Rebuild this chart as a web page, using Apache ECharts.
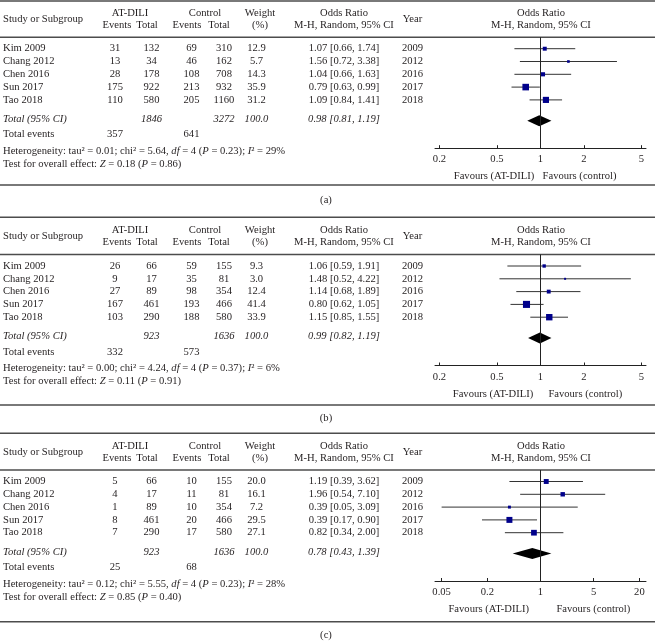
<!DOCTYPE html>
<html><head><meta charset="utf-8">
<script src="https://cdn.jsdelivr.net/npm/echarts@6/dist/echarts.min.js"></script>
<style>html,body{margin:0;padding:0;background:#fff}#c{width:655px;height:642px}</style>
</head><body><div id="c"></div>
<script>
// ---------- data ----------
const studies = ['Kim 2009', 'Chang 2012', 'Chen 2016', 'Sun 2017', 'Tao 2018'];
const years = [2009, 2012, 2016, 2017, 2018];

// panel (a)
const aExpEvents = [31, 13, 28, 175, 110];
const aExpTotal = [132, 34, 178, 922, 580];
const aCtlEvents = [69, 46, 108, 213, 205];
const aCtlTotal = [310, 162, 708, 932, 1160];
const aWeight = [12.9, 5.7, 14.3, 35.9, 31.2];
const aOR = [1.07, 1.56, 1.04, 0.79, 1.09];
const aLo = [0.66, 0.72, 0.66, 0.63, 0.84];
const aHi = [1.74, 3.38, 1.63, 0.99, 1.41];
const aPooled = [0.98, 0.81, 1.19];           // OR, lower, upper
const aTotals = [1846, 3272, 357, 641];        // exp total, ctl total, exp events, ctl events
const aHet = ['0.01', '5.64', 4, '0.23', 29]; // tau2, chi2, df, P, I2
const aTest = ['0.18', '0.86'];                // Z, P
const aTicks = [0.2, 0.5, 1, 2, 5];

// panel (b)
const bExpEvents = [26, 9, 27, 167, 103];
const bExpTotal = [66, 17, 89, 461, 290];
const bCtlEvents = [59, 35, 98, 193, 188];
const bCtlTotal = [155, 81, 354, 466, 580];
const bWeight = [9.3, 3.0, 12.4, 41.4, 33.9];
const bOR = [1.06, 1.48, 1.14, 0.80, 1.15];
const bLo = [0.59, 0.52, 0.68, 0.62, 0.85];
const bHi = [1.91, 4.22, 1.89, 1.05, 1.55];
const bPooled = [0.99, 0.82, 1.19];
const bTotals = [923, 1636, 332, 573];
const bHet = ['0.00', '4.24', 4, '0.37', 6];
const bTest = ['0.11', '0.91'];
const bTicks = [0.2, 0.5, 1, 2, 5];

// panel (c)
const cExpEvents = [5, 4, 1, 8, 7];
const cExpTotal = [66, 17, 89, 461, 290];
const cCtlEvents = [10, 11, 10, 20, 17];
const cCtlTotal = [155, 81, 354, 466, 580];
const cWeight = [20.0, 16.1, 7.2, 29.5, 27.1];
const cOR = [1.19, 1.96, 0.39, 0.39, 0.82];
const cLo = [0.39, 0.54, 0.05, 0.17, 0.34];
const cHi = [3.62, 7.10, 3.09, 0.90, 2.00];
const cPooled = [0.78, 0.43, 1.39];
const cTotals = [923, 1636, 25, 68];
const cHet = ['0.12', '5.55', 4, '0.23', 28];
const cTest = ['0.85', '0.40'];
const cTicks = [0.05, 0.2, 1, 5, 20];

const panelTags = ['(a)', '(b)', '(c)'];

// ---------- assemble ----------
const panels = [
  {expEvents: aExpEvents, expTotal: aExpTotal, ctlEvents: aCtlEvents, ctlTotal: aCtlTotal, weight: aWeight, or: aOR, lo: aLo, hi: aHi, pooled: aPooled, totals: aTotals, het: aHet, test: aTest, ticks: aTicks},
  {expEvents: bExpEvents, expTotal: bExpTotal, ctlEvents: bCtlEvents, ctlTotal: bCtlTotal, weight: bWeight, or: bOR, lo: bLo, hi: bHi, pooled: bPooled, totals: bTotals, het: bHet, test: bTest, ticks: bTicks},
  {expEvents: cExpEvents, expTotal: cExpTotal, ctlEvents: cCtlEvents, ctlTotal: cCtlTotal, weight: cWeight, or: cOR, lo: cLo, hi: cHi, pooled: cPooled, totals: cTotals, het: cHet, test: cTest, ticks: cTicks}
];

// ---------- layout / style ----------
const FONT = '"Liberation Serif", "Times New Roman", serif';
const FS = 10.6;
const TXT = '#231f20';
const RULE = '#4d4d4d';
const KIM = [48.7, 266, 481.5];
const TOPRULE = [1, 217.3, 433.3];
const BOTTOM = [185, 405, 621.7];
const TAGY = [200.7, 418, 635];
const FAV = [[494, 579.5], [493, 585.3], [488.7, 593.3]];
const XHALF = [0.73, 0.73, 1.388];
const ROW = 12.8;
const TOTAL_IDX = 72 / ROW;
const COL = {study: 3, ev: 115, tot: 151.5, cev: 191.5, ctot: 224, w: 256.5, or: 344, year: 412.5, plot: 541};

const graphic = [];
function txt(x, y, text, align, extra) {
  graphic.push({type: 'text', x: x, y: y, silent: true,
    style: Object.assign({text: String(text), fill: TXT, fontFamily: FONT, fontSize: FS,
      align: align || 'center', verticalAlign: 'middle'}, extra || {})});
}
function rule(y) {
  graphic.push({type: 'line', silent: true, shape: {x1: 0, y1: y, x2: 655, y2: y},
    style: {stroke: RULE, lineWidth: 1.5}});
}
const italic = {fontStyle: 'italic'};
const richI = {i: {fontStyle: 'italic', fontFamily: FONT, fontSize: FS, fill: TXT}};

const grids = [], xAxes = [], yAxes = [], series = [];
const fmt2 = v => v.toFixed(2);
const ciText = (o, l, h) => `${fmt2(o)} [${fmt2(l)}, ${fmt2(h)}]`;

panels.forEach((p, k) => {
  const base = KIM[k];
  const hdr1 = base - 35.5, hdr2 = base - 23.5, hdrMid = base - 29.5, hdrRule = base - 11.5;
  rule(TOPRULE[k]);
  rule(hdrRule);
  rule(BOTTOM[k]);
  // headers
  txt(COL.study, hdrMid, 'Study or Subgroup', 'left');
  txt(130, hdr1, 'AT-DILI');
  txt(117, hdr2, 'Events');
  txt(147, hdr2, 'Total');
  txt(205, hdr1, 'Control');
  txt(187, hdr2, 'Events');
  txt(219, hdr2, 'Total');
  txt(260, hdr1, 'Weight');
  txt(260, hdr2, '(%)');
  txt(COL.or, hdr1, 'Odds Ratio');
  txt(COL.or, hdr2, 'M-H, Random, 95% CI');
  txt(COL.year, hdrMid, 'Year');
  txt(COL.plot, hdr1, 'Odds Ratio');
  txt(COL.plot, hdr2, 'M-H, Random, 95% CI');
  // rows
  studies.forEach((s, i) => {
    const y = base + i * ROW;
    txt(COL.study, y, s, 'left');
    txt(COL.ev, y, p.expEvents[i]);
    txt(COL.tot, y, p.expTotal[i]);
    txt(COL.cev, y, p.ctlEvents[i]);
    txt(COL.ctot, y, p.ctlTotal[i]);
    txt(COL.w, y, p.weight[i].toFixed(1));
    txt(COL.or, y, ciText(p.or[i], p.lo[i], p.hi[i]));
    txt(COL.year, y, years[i]);
  });
  const yT = base + 70.5;
  txt(COL.study, yT, 'Total (95% CI)', 'left', italic);
  txt(COL.tot, yT, p.totals[0], 'center', italic);
  txt(COL.ctot, yT, p.totals[1], 'center', italic);
  txt(COL.w, yT, '100.0', 'center', italic);
  txt(COL.or, yT, ciText(p.pooled[0], p.pooled[1], p.pooled[2]), 'center', italic);
  const yE = base + 86;
  txt(COL.study, yE, 'Total events', 'left');
  txt(COL.ev, yE, p.totals[2]);
  txt(COL.cev, yE, p.totals[3]);
  txt(COL.study, base + 102.5,
    `Heterogeneity: tau² = ${p.het[0]}; chi² = ${p.het[1]}, {i|df} = ${p.het[2]} ({i|P} = ${p.het[3]}); {i|I}² = ${p.het[4]}%`,
    'left', {rich: richI});
  txt(COL.study, base + 115.5,
    `Test for overall effect: {i|Z} = ${p.test[0]} ({i|P} = ${p.test[1]})`, 'left', {rich: richI});
  // favours
  txt(FAV[k][0], base + 128, 'Favours (AT-DILI)');
  txt(FAV[k][1], base + 128, 'Favours (control)');
  txt(326, TAGY[k], panelTags[k]);

  // forest plot grid
  const top = hdrRule, bottomY = base + 99.5;
  grids.push({left: 435, right: 9, top: top, height: bottomY - top});
  const tickLogs = p.ticks.map(t => Math.log10(t));
  xAxes.push({type: 'value', gridIndex: k, min: -XHALF[k], max: XHALF[k], position: 'bottom',
    axisLine: {show: true, onZero: false, lineStyle: {color: '#222', width: 1}},
    axisTick: {show: true, inside: true, length: 3, customValues: tickLogs, lineStyle: {color: '#222'}},
    axisLabel: {show: true, customValues: tickLogs, margin: 6, color: TXT, fontFamily: FONT, fontSize: FS,
      formatter: v => { const t = p.ticks.find(t => Math.abs(Math.log10(t) - v) < 1e-6); return t === undefined ? '' : String(t); }},
    splitLine: {show: false}});
  yAxes.push({type: 'value', gridIndex: k, inverse: true, min: -11.5 / ROW, max: 99.5 / ROW, show: false});

  const rows = studies.map((s, i) => [Math.log10(p.or[i]), i, Math.log10(p.lo[i]), Math.log10(p.hi[i]), p.weight[i]]);
  series.push({type: 'custom', xAxisIndex: k, yAxisIndex: k, data: rows, silent: true,
    renderItem: (params, api) => {
      const c = api.coord([api.value(0), api.value(1)]);
      const l = api.coord([api.value(2), api.value(1)]);
      const h = api.coord([api.value(3), api.value(1)]);
      const s = Math.max(2, 1.1 * Math.sqrt(api.value(4)));
      return {type: 'group', children: [
        {type: 'line', shape: {x1: l[0], y1: c[1], x2: h[0], y2: c[1]}, style: {stroke: '#333', lineWidth: 1}},
        {type: 'rect', shape: {x: c[0] - s / 2, y: c[1] - s / 2, width: s, height: s}, style: {fill: '#00008b'}}
      ]};
    },
    markLine: {silent: true, symbol: 'none', label: {show: false}, animation: false,
      lineStyle: {color: '#222', width: 1, type: 'solid'}, data: [{xAxis: 0}]}
  });
  series.push({type: 'custom', xAxisIndex: k, yAxisIndex: k, silent: true,
    data: [[Math.log10(p.pooled[0]), TOTAL_IDX, Math.log10(p.pooled[1]), Math.log10(p.pooled[2])]],
    renderItem: (params, api) => {
      const c = api.coord([api.value(0), api.value(1)]);
      const l = api.coord([api.value(2), api.value(1)]);
      const h = api.coord([api.value(3), api.value(1)]);
      const hh = 5.5;
      return {type: 'polygon', shape: {points: [[l[0], c[1]], [c[0], c[1] - hh], [h[0], c[1]], [c[0], c[1] + hh]]},
        style: {fill: '#000'}};
    }
  });
});

const chart = echarts.init(document.getElementById('c'), null, {renderer: 'canvas'});
chart.setOption({
  animation: false,
  backgroundColor: '#fff',
  grid: grids, xAxis: xAxes, yAxis: yAxes, series: series,
  graphic: {elements: graphic}
});
</script></body></html>
